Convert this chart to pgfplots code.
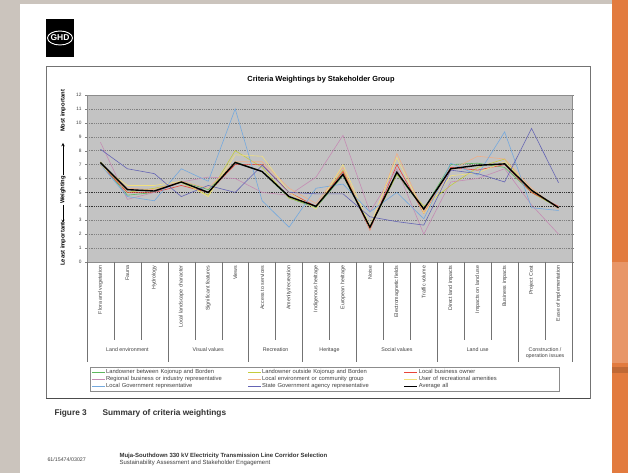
\documentclass[border=0pt]{standalone}
\usepackage{pgfplots}
\pgfplotsset{compat=1.18}
\usepackage{pgfplotstable}
\usepackage{fontspec}
\setmainfont{Liberation Sans}
\newcommand\fs[1]{\fontsize{#1}{#1}\selectfont}
\definecolor{bggray}{HTML}{CBC4BD}
\definecolor{orng}{HTML}{E27B3F}
\definecolor{orngl}{HTML}{E89668}
\definecolor{plotgray}{HTML}{C3C3C3}
\definecolor{colg}{HTML}{5DB85D}
\definecolor{colyg}{HTML}{C4CC3C}
\definecolor{colr}{HTML}{E8443A}
\definecolor{colm}{HTML}{C58CB4}
\definecolor{colp}{HTML}{F2AE86}
\definecolor{colpy}{HTML}{F2E07C}
\definecolor{collb}{HTML}{74A9DE}
\definecolor{colsb}{HTML}{6464B4}

\pgfplotstableread{
x  g    yg   r    m    p    py   lb    sb    avg
0  7.1  7.2  7.0  8.6  7.0  6.9  7.0   8.1   7.15
1  4.8  5.0  5.0  4.5  5.3  5.5  4.7   6.7   5.2
2  5.0  5.3  5.0  5.0  5.2  5.5  4.4   6.35  5.1
3  5.8  5.7  5.5  5.75 5.8  5.8  6.7   4.7   5.75
4  5.2  4.8  5.0  6.1  5.3  4.7  5.8   5.5   5.0
5  7.2  8.0  7.0  6.0  7.2  7.7  11.0  5.0   7.15
6  6.5  6.8  7.0  5.0  7.2  7.6  4.4   6.95  6.5
7  4.6  4.6  5.0  4.8  5.3  5.0  2.5   5.0   4.7
8  3.9  4.0  4.0  6.1  4.2  3.8  5.3   4.9   4.0
9  6.2  6.6  6.5  9.1  6.8  7.0  5.6   4.9   6.3
10 2.5  2.5  2.3  3.6  2.3  2.6  3.6   3.25  2.5
11 6.3  6.3  7.0  6.7  7.8  7.5  5.0   2.9   6.45
12 3.8  4.0  3.5  2.0  3.6  3.5  3.1   2.65  3.8
13 7.0  5.5  6.8  5.75 6.6  6.2  7.1   6.6   6.7
14 7.1  6.8  6.6  6.0  7.6  6.4  6.25  6.35  6.95
15 6.8  7.4  7.0  6.7  7.4  7.2  9.35  5.75  7.05
16 5.0  5.0  5.0  4.1  5.3  5.2  3.9   9.6   5.15
17 3.9  3.9  4.0  2.0  3.8  3.9  3.7   5.7   3.9
}\data

\begin{document}
\begin{tikzpicture}
% page background
\fill[bggray] (0pt,0pt) rectangle (628pt,473pt);
\fill[white] (20pt,0pt) rectangle (612pt,469pt);
\fill[orng] (612pt,0pt) rectangle (628pt,473pt);
\fill[orngl] (612pt,110pt) rectangle (628pt,211pt);
\fill[orng!85!black] (612pt,100pt) rectangle (628pt,106pt);
% logo
\fill[black] (46pt,416pt) rectangle (74pt,454pt);
\draw[white, line width=0.9pt] (60pt,435pt) ellipse (12.5pt and 7pt);
\node[white, font=\bfseries\fs{8.5}, inner sep=0pt] at (60pt,435pt) {GHD};
% chart frame
\draw[black!55, line width=0.6pt] (46pt,75pt) rectangle (590pt,407pt);
\draw[black!70, line width=1.1pt] (46pt,74.5pt) -- (590pt,74.5pt);
% title
\node[font=\bfseries\fs{7.4}] at (321pt,393pt) {Criteria Weightings by Stakeholder Group};
% y label
\node[rotate=90, font=\bfseries\fs{5.8}] at (63pt,362pt) {Most important};
\node[rotate=90, font=\bfseries\fs{5.8}] at (63pt,283pt) {Weighting};
\node[rotate=90, font=\bfseries\fs{5.8}] at (63pt,229pt) {Least important};
\draw[-stealth, line width=0.5pt] (63pt,298pt) -- (63pt,330pt);
\draw[-stealth, line width=0.5pt] (63pt,268pt) -- (63pt,250pt);

\begin{axis}[
  at={(87pt,211pt)}, anchor=south west,
  width=485pt, height=167pt, scale only axis,
  xmin=-0.5, xmax=17.5, ymin=0, ymax=12,
  clip=false,
  axis background/.style={fill=plotgray},
  axis line style={black!45, line width=0.5pt},
  xtick={0,...,17},
  xticklabels={Flora and vegetation, Fauna, Hydrology, Local landscape character, Significant features, Views, Access to services, Amenity/recreation, Indigenous heritage, European heritage, Noise, Electromagnetic fields, Traffic volume, Direct land impacts, Impacts on land use, Business impacts, Project Cost, Ease of implementation},
  x tick label style={rotate=90, anchor=east, font=\fs{5.3}, inner sep=1.5pt, text=black!75},
  major x tick style={draw=none},
  ytick={0,...,12},
  y tick label style={font=\fs{4.8}, text=black!75},
  /pgf/number format/assume math mode=true,
  tick align=outside, major tick length=2pt,
  ytick style={black!50},
  ymajorgrids,
  major grid style={black!50, dash pattern=on 1pt off 0.8pt, line width=0.4pt},
  legend columns=3,
  legend style={at={(axis description cs:0.49,-0.629)}, anchor=north,
    draw=black!45, fill=white, font=\fs{5.8}, row sep=0.2pt,
    inner xsep=2pt, inner ysep=1.2pt,
    nodes={text width=138pt, inner sep=0.7pt, text=black!75},
    /tikz/every even column/.append style={column sep=3pt}},
  legend cell align=left,
  legend image code/.code={\draw[#1] (0pt,0pt) -- (13pt,0pt);},
  every axis plot/.append style={line width=0.6pt, mark=none},
]
% darker grid lines at 4 and 5
\draw[black!80, dash pattern=on 1pt off 0.8pt, line width=0.7pt] (axis cs:-0.5,4) -- (axis cs:17.5,4);
\draw[black!80, dash pattern=on 1pt off 0.8pt, line width=0.7pt] (axis cs:-0.5,5) -- (axis cs:17.5,5);
\addplot[colg]  table[x=x, y=g]  {\data};
\addlegendentry{Landowner between Kojonup and Borden}
\addplot[colyg] table[x=x, y=yg] {\data};
\addlegendentry{Landowner outside Kojonup and Borden}
\addplot[colr]  table[x=x, y=r]  {\data};
\addlegendentry{Local business owner}
\addplot[colm]  table[x=x, y=m]  {\data};
\addlegendentry{Regional business or industry representative}
\addplot[colp]  table[x=x, y=p]  {\data};
\addlegendentry{Local environment or community group}
\addplot[colpy] table[x=x, y=py] {\data};
\addlegendentry{User of recreational amenities}
\addplot[collb] table[x=x, y=lb] {\data};
\addlegendentry{Local Government representative}
\addplot[colsb] table[x=x, y=sb] {\data};
\addlegendentry{State Government agency representative}
\addplot[black, line width=1.4pt] table[x=x, y=avg] {\data};
\addlegendentry{Average all}
% category separators
\pgfplotsinvokeforeach{0.5,1.5,3.5,4.5,6.5,8.5,10.5,11.5,13.5,14.5,16.5}{
  \draw[black!55, line width=0.4pt] (axis cs:#1,0) -- (axis cs:#1,-5.6);}
\pgfplotsinvokeforeach{-0.5,2.5,5.5,7.5,9.5,12.5,15.5,17.5}{
  \draw[black!55, line width=0.4pt] (axis cs:#1,0) -- (axis cs:#1,-7.2);}
% group labels
\node[font=\fs{5.3}, text=black!75] at (axis cs:1,-6.3) {Land environment};
\node[font=\fs{5.3}, text=black!75] at (axis cs:4,-6.3) {Visual values};
\node[font=\fs{5.3}, text=black!75] at (axis cs:6.5,-6.3) {Recreation};
\node[font=\fs{5.3}, text=black!75] at (axis cs:8.5,-6.3) {Heritage};
\node[font=\fs{5.3}, text=black!75] at (axis cs:11,-6.3) {Social values};
\node[font=\fs{5.3}, text=black!75] at (axis cs:14,-6.3) {Land use};
\node[font=\fs{5.3}, text=black!75, align=center] at (axis cs:16.5,-6.55) {Construction /\\operation issues};
\end{axis}

% caption
\node[anchor=base west, font=\bfseries\fs{8.3}, text=black!80] at (51pt,57pt) {Figure 3};
\node[anchor=base west, font=\bfseries\fs{8.3}, text=black!80] at (99pt,57pt) {Summary of criteria weightings};
% footer
\node[anchor=base west, font=\fs{5.3}, text=black!75] at (44pt,12pt) {61/15474/03027};
\node[anchor=base west, font=\bfseries\fs{6}, text=black!80] at (116pt,15pt) {Muja-Southdown 330 kV Electricity Transmission Line Corridor Selection};
\node[anchor=base west, font=\fs{6}, text=black!75] at (116pt,8.5pt) {Sustainability Assessment and Stakeholder Engagement};
\end{tikzpicture}
\end{document}
